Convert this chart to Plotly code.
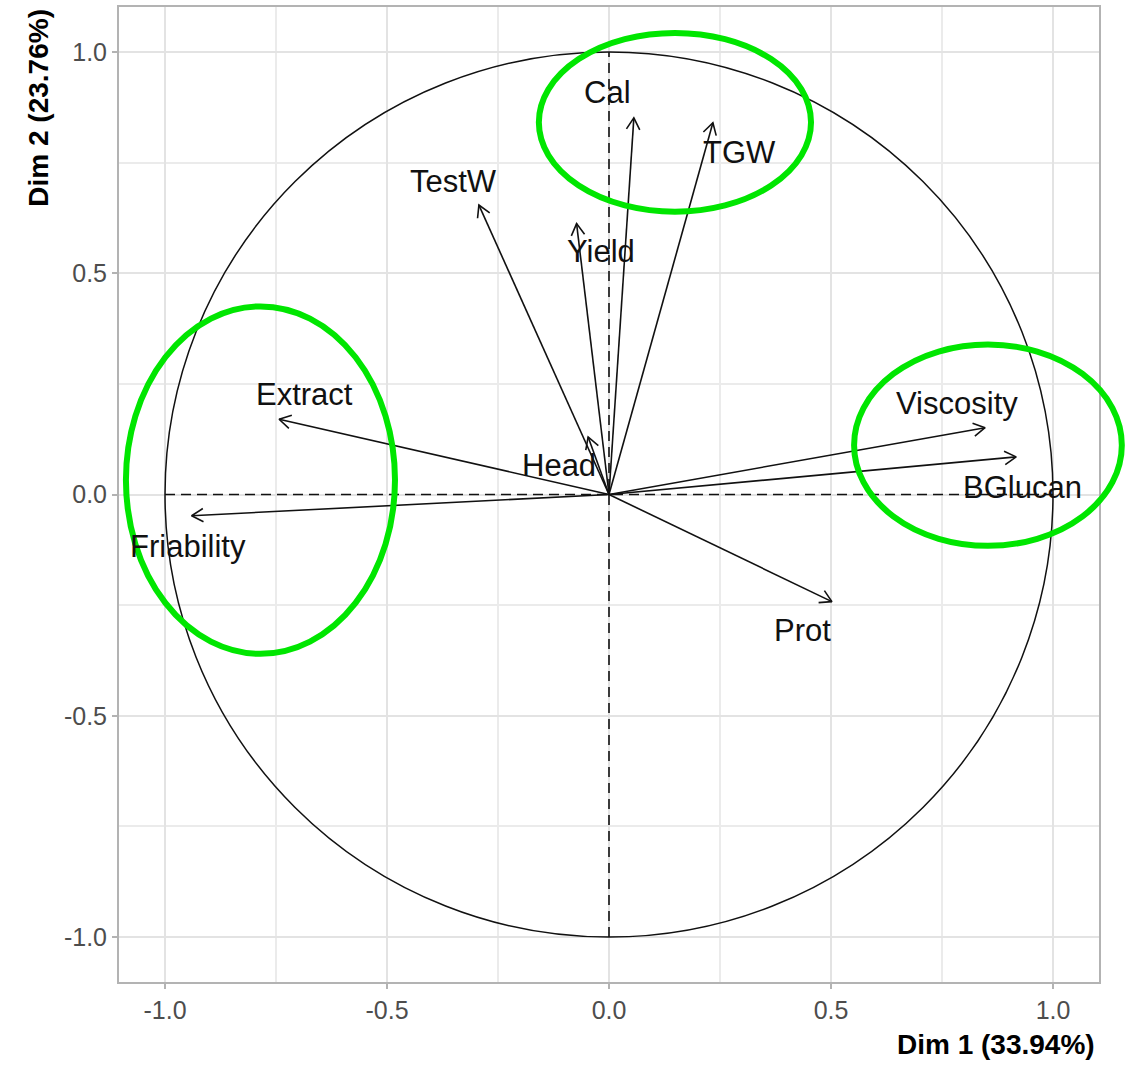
import math
import plotly.graph_objects as go

# Variable coordinates on the first two principal dimensions
variables = ["Cal", "TGW", "TestW", "Yield", "Head", "Extract",
             "Friability", "Viscosity", "BGlucan", "Prot"]
dim1 = [0.056, 0.234, -0.293, -0.073, -0.047, -0.743, -0.940, 0.847, 0.917, 0.502]
dim2 = [0.851, 0.840, 0.654, 0.612, 0.130, 0.170, -0.048, 0.151, 0.085, -0.242]

dim1_pct = 33.94
dim2_pct = 23.76

tick_vals = [-1.0, -0.5, 0.0, 0.5, 1.0]
tick_text = ["-1.0", "-0.5", "0.0", "0.5", "1.0"]

# Label placement relative to each arrow tip (repelled text positions)
label_offsets = [(-0.060, 0.058), (0.061, -0.067), (-0.058, 0.053), (0.055, -0.062),
                 (-0.066, -0.065), (0.058, 0.057), (-0.008, -0.070), (-0.063, 0.054),
                 (0.015, -0.070), (-0.067, -0.065)]

# Highlight ellipses (x0, x1, y0, y1 in data units)
ellipses = [(-0.158, 0.455, 0.639, 1.043),
            (-1.088, -0.482, -0.360, 0.425),
            (0.552, 1.155, -0.116, 0.339)]

XR = (-1.1036, 1.1036)
YR = (-1.1015, 1.1015)

head_len = 0.03
head_ang = math.radians(30)

xs, ys = [], []
for x, y in zip(dim1, dim2):
    th = math.atan2(y, x)
    xs += [0, x, None]
    ys += [0, y, None]
    xs += [x - head_len * math.cos(th + head_ang), x, x - head_len * math.cos(th - head_ang), None]
    ys += [y - head_len * math.sin(th + head_ang), y, y - head_len * math.sin(th - head_ang), None]

fig = go.Figure()
fig.add_trace(go.Scatter(x=xs, y=ys, mode="lines",
                         line=dict(color="#111111", width=1.6),
                         hoverinfo="skip", showlegend=False))

font_main = "Liberation Sans, Arial, sans-serif"

annotations = []
for name, x, y, (dx, dy) in zip(variables, dim1, dim2, label_offsets):
    annotations.append(dict(x=x + dx, y=y + dy, xref="x", yref="y", text=name,
                            showarrow=False, xanchor="center", yanchor="middle",
                            font=dict(family=font_main, size=31, color="#111111")))

annotations.append(dict(x=0.998, y=-0.064, xref="paper", yref="paper",
                        text=f"<b>Dim 1 ({dim1_pct:.2f}%)</b>", showarrow=False,
                        xanchor="right", yanchor="middle",
                        font=dict(family=font_main, size=28, color="black")))
annotations.append(dict(x=-0.083, y=1.0, xref="paper", yref="paper",
                        text=f"<b>Dim 2 ({dim2_pct:.2f}%)</b>", showarrow=False,
                        textangle=-90, xanchor="center", yanchor="top",
                        font=dict(family=font_main, size=28, color="black")))

shapes = [
    # correlation circle
    dict(type="circle", xref="x", yref="y", x0=-1, x1=1, y0=-1, y1=1,
         line=dict(color="#111111", width=1.5), layer="above"),
    # dashed reference axes
    dict(type="line", xref="x", yref="y", x0=-1, x1=1, y0=0, y1=0,
         line=dict(color="#111111", width=1.6, dash="10px,6px")),
    dict(type="line", xref="x", yref="y", x0=0, x1=0, y0=-1, y1=1,
         line=dict(color="#111111", width=1.6, dash="10px,6px")),
]


def to_px(v, r):
    return (v - r[0]) / (r[1] - r[0])


for x0, x1, y0, y1 in ellipses:
    shapes.append(dict(type="circle", xref="paper", yref="paper",
                       x0=to_px(x0, XR), x1=to_px(x1, XR),
                       y0=to_px(y0, YR), y1=to_px(y1, YR),
                       line=dict(color="#00E600", width=6), layer="above"))

axis_common = dict(
    tickvals=tick_vals, ticktext=tick_text,
    showgrid=True, gridcolor="#E3E3E3", gridwidth=2,
    minor=dict(dtick=0.25, tick0=0.25, showgrid=True, gridcolor="#EBEBEB", gridwidth=1.5),
    zeroline=False, showline=True, linecolor="#B3B3B3", linewidth=2, mirror=True,
    ticks="outside", ticklen=5, tickcolor="#B3B3B3", tickwidth=1.5,
    tickfont=dict(family=font_main, size=25, color="#4D4D4D"),
)

fig.update_layout(
    width=1133, height=1065,
    margin=dict(l=119, r=34, t=5, b=83),
    paper_bgcolor="white", plot_bgcolor="white",
    xaxis=dict(range=list(XR), **axis_common),
    yaxis=dict(range=list(YR), **axis_common),
    shapes=shapes, annotations=annotations,
    showlegend=False,
)

fig.write_html("out.html")
